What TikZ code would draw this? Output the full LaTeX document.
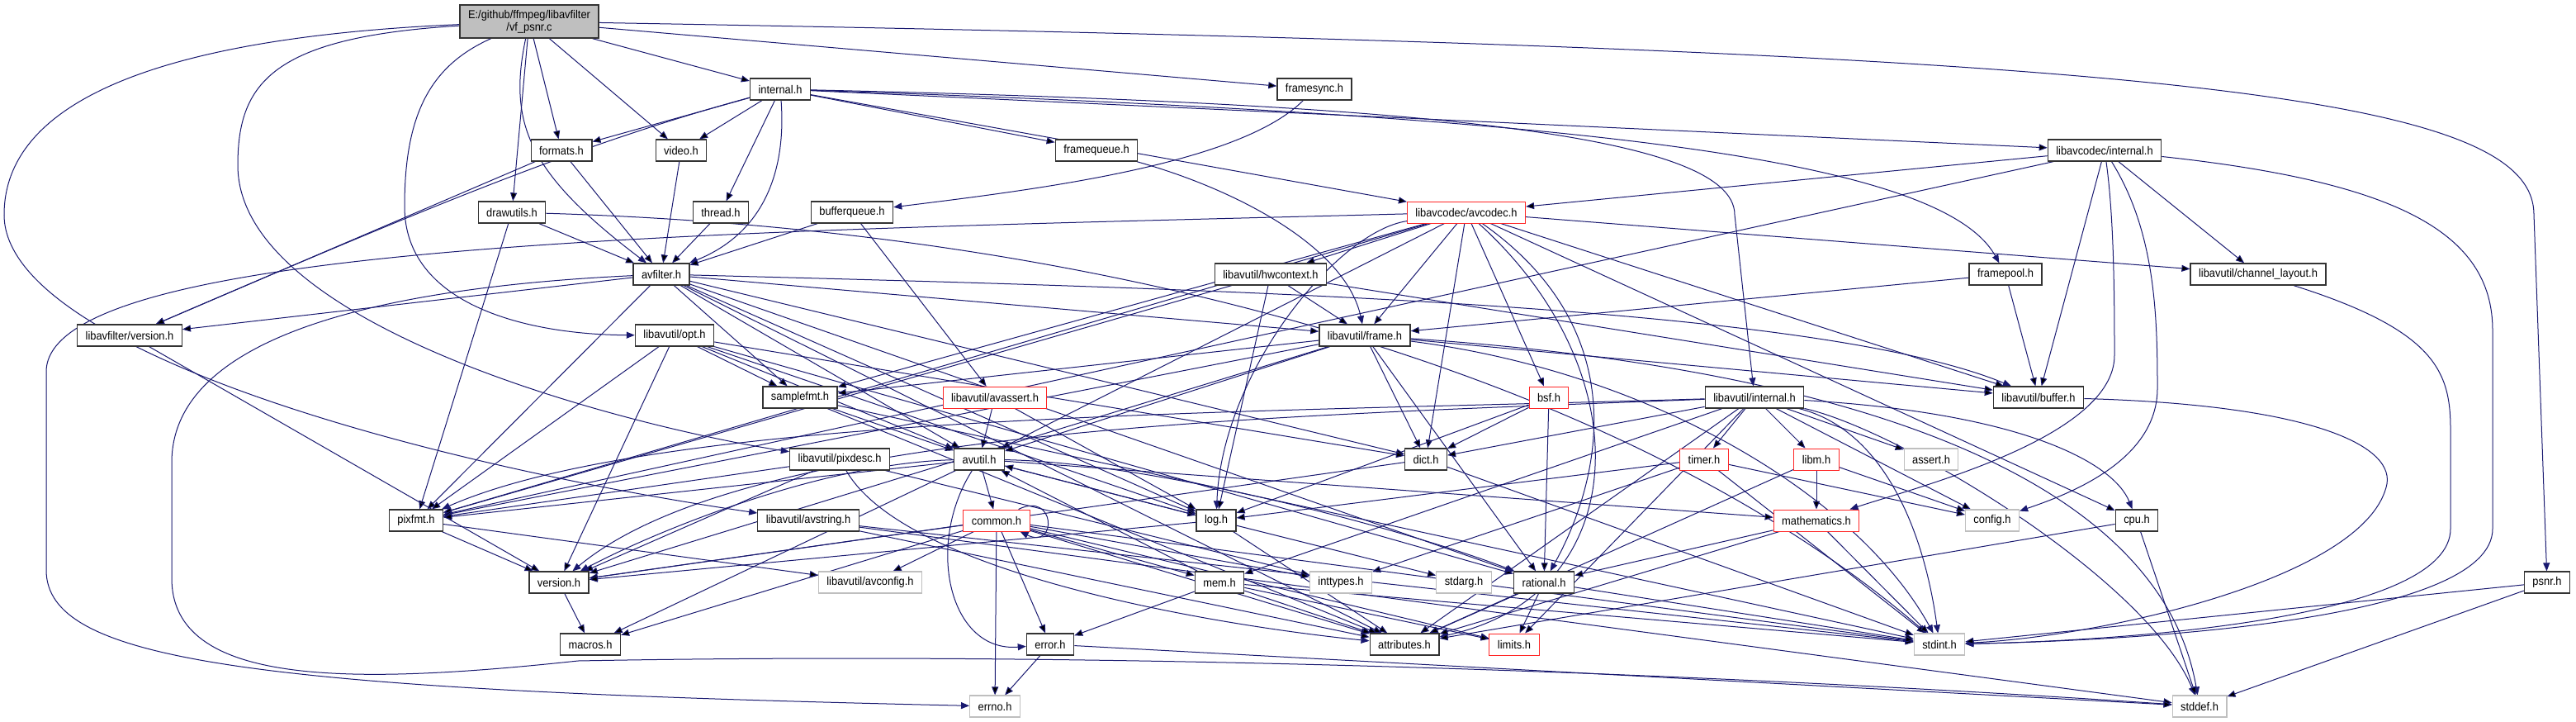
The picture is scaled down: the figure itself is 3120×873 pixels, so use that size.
\documentclass[tikz,border=0pt]{standalone}
\usepackage{fontspec}
\setmainfont{Liberation Sans}[FakeStretch=0.92]
\usetikzlibrary{arrows.meta, backgrounds}
\definecolor{depblue}{RGB}{25,25,112}
\definecolor{sysgray}{RGB}{191,191,191}
\definecolor{truncred}{RGB}{255,40,40}
\tikzset{
	filebox/.style={draw=black!80, line width=1.3pt, fill=white, minimum height=26pt,
		inner xsep=10pt, inner ysep=0pt, font=\fontsize{14}{15}\selectfont}
}
\tikzset{
	truncbox/.style={filebox, draw=truncred, line width=1pt},
	sysbox/.style={filebox, draw=sysgray, line width=1.1pt},
	rootbox/.style={filebox, fill=sysgray, minimum height=40pt, align=center},
	dep/.style={draw=depblue, line width=1pt, -{Triangle[length=10pt,width=8pt]}}
}

\begin{document}
\begin{tikzpicture}[x=1pt, y=-1pt]

	\useasboundingbox (0,0) rectangle (3120,873);

	\node[rootbox] (root) at (641,26) {E:/github/ffmpeg/libavfilter\\/vf\_psnr.c};

	\node[filebox] (lfint) at (945,108) {internal.h};
	\node[filebox] (fsync) at (1592,108) {framesync.h};

	\node[filebox] (formats) at (680,182) {formats.h};
	\node[filebox] (video) at (825,182) {video.h};
	\node[filebox] (fqueue) at (1328,182) {framequeue.h};
	\node[filebox] (lcint) at (2549,182) {libavcodec/internal.h};

	\node[filebox] (drawutils) at (620,257) {drawutils.h};
	\node[filebox] (thread) at (873,257) {thread.h};
	\node[filebox] (bqueue) at (1032,257) {bufferqueue.h};
	\node[truncbox] (avcodec) at (1776,257) {libavcodec/avcodec.h};

	\node[filebox] (avfilter) at (801,332) {avfilter.h};
	\node[filebox] (hwctx) at (1539,332) {libavutil/hwcontext.h};
	\node[filebox] (fpool) at (2429,332) {framepool.h};
	\node[filebox] (chlayout) at (2735,332) {libavutil/channel\_layout.h};

	\node[filebox] (lfver) at (157,406) {libavfilter/version.h};
	\node[filebox] (opt) at (817,406) {libavutil/opt.h};
	\node[filebox] (frame) at (1653,406) {libavutil/frame.h};

	\node[filebox] (smpfmt) at (969,481) {samplefmt.h};
	\node[truncbox] (avassert) at (1205,481) {libavutil/avassert.h};
	\node[truncbox] (bsf) at (1876,481) {bsf.h};
	\node[filebox] (luint) at (2125,481) {libavutil/internal.h};
	\node[filebox] (buffer) at (2469,481) {libavutil/buffer.h};

	\node[filebox] (pixdesc) at (1017,556) {libavutil/pixdesc.h};
	\node[filebox] (avutil) at (1186,556) {avutil.h};
	\node[filebox] (dict) at (1727,556) {dict.h};
	\node[truncbox] (timer) at (2064,556) {timer.h};
	\node[truncbox] (libm) at (2200,556) {libm.h};
	\node[sysbox] (assert) at (2339,556) {assert.h};

	\node[filebox] (pixfmt) at (504,630) {pixfmt.h};
	\node[filebox] (avstring) at (979,630) {libavutil/avstring.h};
	\node[truncbox] (common) at (1207,630) {common.h};
	\node[filebox] (log) at (1473,630) {log.h};
	\node[truncbox] (math) at (2200,630) {mathematics.h};
	\node[sysbox] (config) at (2413,630) {config.h};
	\node[filebox] (cpu) at (2588,630) {cpu.h};

	\node[filebox] (version) at (677,705) {version.h};
	\node[sysbox] (avconfig) at (1054,705) {libavutil/avconfig.h};
	\node[filebox] (mem) at (1477,705) {mem.h};
	\node[sysbox] (inttypes) at (1624,705) {inttypes.h};
	\node[sysbox] (stdarg) at (1773,705) {stdarg.h};
	\node[filebox] (rational) at (1870,705) {rational.h};
	\node[filebox] (psnr) at (3085,705) {psnr.h};

	\node[filebox] (macros) at (715,780) {macros.h};
	\node[filebox] (error) at (1272,780) {error.h};
	\node[filebox] (attributes) at (1701,780) {attributes.h};
	\node[truncbox] (limits) at (1834,780) {limits.h};
	\node[sysbox] (stdint) at (2349,780) {stdint.h};

	\node[sysbox] (errno) at (1205,855) {errno.h};
	\node[sysbox] (stddef) at (2664,855) {stddef.h};

	\begin{scope}[on background layer]
		\fill[white] (0,0) rectangle (3120,873);

		% vf_psnr.c
		\draw[dep] (root) edge (lfint) edge (fsync) edge (formats) edge (video) edge (drawutils);
		\draw[dep] (root) .. controls (615,150) and (640,210) .. (avfilter);
		\draw[dep] (root) .. controls (520,80) and (490,140) .. (490,250) .. controls (490,370) and (640,405) .. (opt);
		\draw[dep] (root) .. controls (330,45) and (288,100) .. (288,200) .. controls (288,400) and (780,520) .. (pixdesc);
		\draw[dep] (root) .. controls (200,45) and (5,120) .. (5,260) .. controls (5,420) and (500,560) .. (avstring);
		\draw[dep] (root) .. controls (2600,60) and (3069,110) .. (3069,260) -- (psnr);

		% libavfilter
		\draw[dep] (lfint) edge (formats) edge (video) edge (thread) edge (fqueue) edge (avcodec) edge (lcint);
		\draw[dep] (lfint) .. controls (952,200) and (930,280) .. (avfilter);
		\draw[dep] (lfint) .. controls (700,175) and (520,250) .. (lfver);
		\draw[dep] (lfint) .. controls (1900,140) and (2350,190) .. (fpool);
		\draw[dep] (lfint) .. controls (1700,125) and (2101,160) .. (2101,260) -- (luint);
		\draw[dep] (fsync) .. controls (1500,200) and (1250,230) .. (bqueue);
		\draw[dep] (formats) edge (avfilter) edge (lfver);
		\draw[dep] (video) edge (avfilter);
		\draw[dep] (thread) edge (avfilter);
		\draw[dep] (bqueue) edge (avfilter) edge (avassert);
		\draw[dep] (drawutils) edge (avfilter) edge (pixfmt);
		\draw[dep] (drawutils) .. controls (1400,280) and (2000,480) .. (stdint);
		\draw[dep] (fqueue) .. controls (1500,230) and (1630,300) .. (frame);
		\draw[dep] (fpool) edge (frame) edge (buffer);
		\draw[dep] (lfver) edge (version);

		% libavcodec
		\draw[dep] (lcint) edge (avcodec) edge (buffer) edge (chlayout) edge (pixfmt);
		\draw[dep] (lcint) .. controls (2560,260) and (2561,350) .. (2561,430) .. controls (2561,530) and (2320,590) .. (math);
		\draw[dep] (lcint) .. controls (2610,280) and (2613,380) .. (2613,470) .. controls (2613,560) and (2500,600) .. (config);
		\draw[dep] (lcint) .. controls (2900,220) and (3019,280) .. (3019,400) -- (3019,640) .. controls (3019,750) and (2600,775) .. (stdint);
		\draw[dep] (avcodec) edge (hwctx) edge (frame) edge (dict) edge (bsf) edge (smpfmt) edge (avutil) edge (pixfmt) edge (buffer) edge (chlayout) edge (cpu);
		\draw[dep] (avcodec) .. controls (1620,280) and (1480,450) .. (log);
		\draw[dep] (avcodec) .. controls (1980,400) and (1940,580) .. (rational);
		\draw[dep] (avcodec) .. controls (1990,450) and (1980,720) .. (attributes);
		\draw[dep] (avcodec) .. controls (900,280) and (56,290) .. (56,450) -- (56,690) .. controls (56,800) and (300,835) .. (errno);
		\draw[dep] (bsf) edge (dict) edge (log) edge (rational);

		% avfilter.h
		\draw[dep] (avfilter) edge (lfver) edge (avutil) edge (dict) edge (frame) edge (log) edge (smpfmt) edge (pixfmt) edge (rational) edge (attributes);
		\draw[dep] (avfilter) .. controls (1500,350) and (2200,370) .. (buffer);
		\draw[dep] (avfilter) .. controls (420,350) and (208,420) .. (208,560) -- (208,700) .. controls (208,830) and (420,830) .. (700,800) .. controls (1500,785) and (2300,830) .. (stddef);

		% libavutil
		\draw[dep] (hwctx) edge (buffer) edge (frame) edge (log) edge (pixfmt);
		\draw[dep] (opt) edge (smpfmt) edge (avutil) edge (dict) edge (log) edge (pixfmt) edge (rational) edge (version);
		\draw[dep] (frame) edge (smpfmt) edge (avutil) edge (pixfmt) edge (version) edge (dict) edge (rational) edge (buffer);
		\draw[dep] (frame) .. controls (2300,450) and (2620,600) .. (stddef);
		\draw[dep] (frame) .. controls (2000,450) and (2250,600) .. (stdint);
		\draw[dep] (smpfmt) edge (avutil) edge (attributes) edge (stdint);
		\draw[dep] (avassert) edge (avutil) edge (log);
		\draw[dep] (luint) edge (dict) edge (timer) edge (libm) edge (assert) edge (config) edge (attributes) edge (mem) edge (limits);
		\draw[dep] (luint) .. controls (1500,500) and (800,500) .. (pixfmt);
		\draw[dep] (luint) .. controls (1500,505) and (900,520) .. (version);
		\draw[dep] (luint) .. controls (2450,500) and (2560,560) .. (cpu);
		\draw[dep] (luint) .. controls (2280,520) and (2330,640) .. (stdint);
		\draw[dep] (luint) .. controls (2300,520) and (2600,700) .. (stddef);
		\draw[dep] (buffer) .. controls (2800,490) and (2905,540) .. (2890,590) .. controls (2860,700) and (2550,770) .. (stdint);
		\draw[dep] (chlayout) .. controls (2950,400) and (2968,450) .. (2968,520) -- (2968,640) .. controls (2968,745) and (2600,775) .. (stdint);
		\draw[dep] (pixdesc) edge (pixfmt) edge (version) edge (inttypes);
		\draw[dep] (pixdesc) .. controls (1100,700) and (1500,760) .. (attributes);
		\draw[dep] (avutil) edge (common) edge (math) edge (log) edge (pixfmt) edge (macros);
		\draw[dep] (avutil) .. controls (1120,660) and (1150,790) .. (error);
		\draw[dep] (avutil) .. controls (1400,560) and (1700,640) .. (rational);
		\draw[dep] (avutil) .. controls (1000,560) and (800,640) .. (version);
		\draw[dep] (dict) edge (version) edge (stdint);
		\draw[dep] (timer) edge (config) edge (inttypes) edge (stdint) edge (log);
		\draw[dep] (libm) edge (math) edge (attributes) edge (config);
		\draw[dep] (pixfmt) edge (version) edge (avconfig);
		\draw[dep] (avstring) edge (attributes) edge (stddef) edge (stdint);
		\draw[dep] (common) edge (errno) edge (inttypes) edge (limits) edge (stdint) edge (attributes) edge (macros) edge (version) edge (avconfig) edge (mem) edge (error);
		\draw[dep] ([xshift=-14pt]common.north east) .. controls +(45,-22) and +(45,22) .. ([xshift=-12pt]common.south east);
		\draw[dep] (log) edge (avutil) edge (attributes) edge (version) edge (stdarg);
		\draw[dep] (math) edge (attributes) edge (rational) edge (stdint);
		\draw[dep] (cpu) edge (attributes) edge (stddef);
		\draw[dep] (version) edge (macros);
		\draw[dep] (mem) edge (error) edge (avutil) edge (attributes) edge (limits) edge (stdint);
		\draw[dep] (rational) edge (attributes) edge (limits) edge (stdint);
		\draw[dep] (psnr) edge (stddef) edge (stdint);
		\draw[dep] (error) edge (errno) edge (stddef);
	\end{scope}

\end{tikzpicture}
\end{document}
